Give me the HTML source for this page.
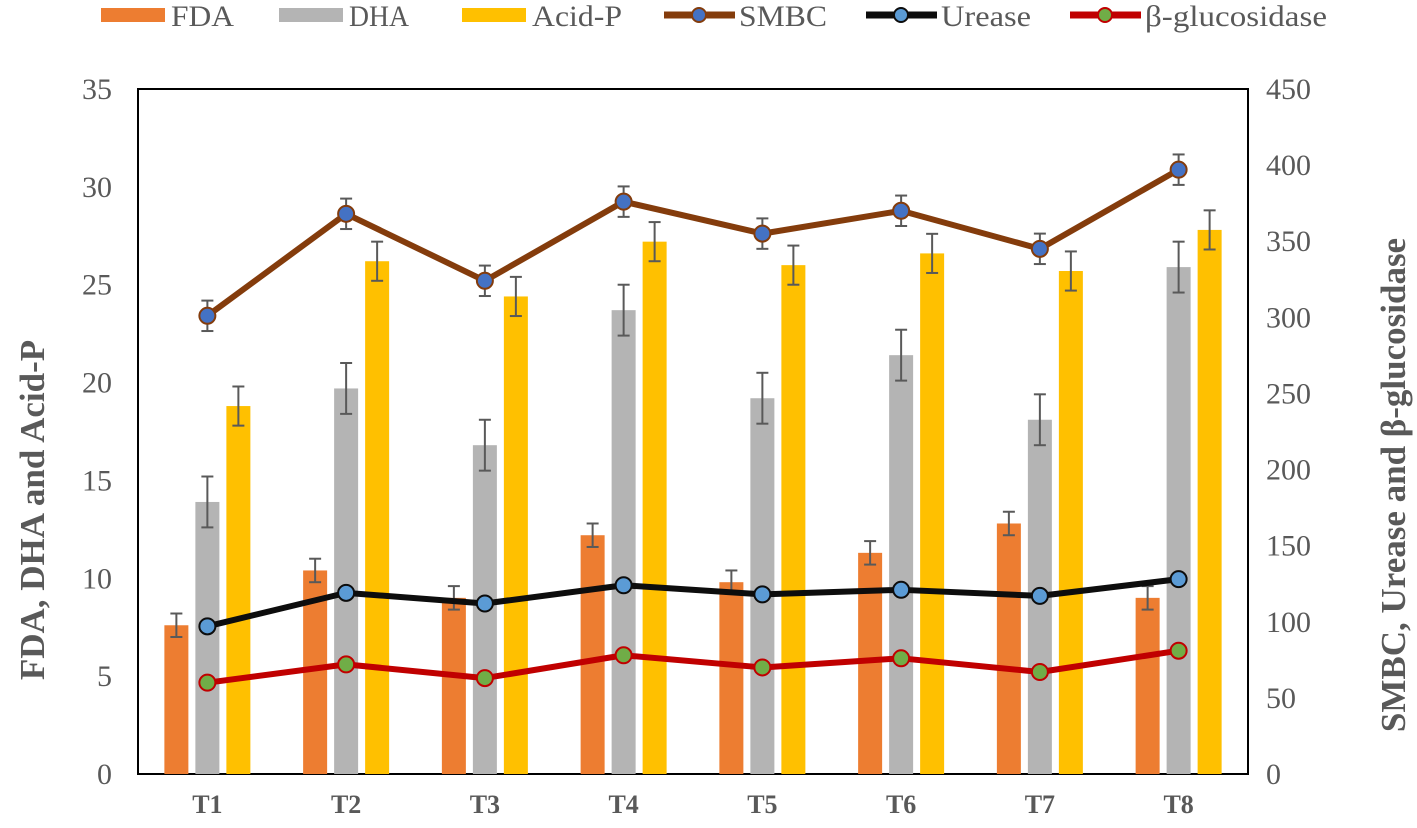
<!DOCTYPE html>
<html><head><meta charset="utf-8"><style>
body{margin:0;background:#fff;}
svg{display:block;font-family:"Liberation Serif",serif;}
</style></head><body>
<svg id="c" width="1417" height="828" xmlns="http://www.w3.org/2000/svg"></svg>
<script>
const categories=["T1","T2","T3","T4","T5","T6","T7","T8"];
const fda=[7.6,10.4,9.0,12.2,9.8,11.3,12.8,9.0];
const fdaErr=[0.6,0.6,0.6,0.6,0.6,0.6,0.6,0.6];
const dha=[13.9,19.7,16.8,23.7,19.2,21.4,18.1,25.9];
const dhaErr=[1.3,1.3,1.3,1.3,1.3,1.3,1.3,1.3];
const acidP=[18.8,26.2,24.4,27.2,26.0,26.6,25.7,27.8];
const acidErr=[1.0,1.0,1.0,1.0,1.0,1.0,1.0,1.0];
const smbc=[301,368,324,376,355,370,345,397];
const smbcErr=[10,10,10,10,10,10,10,10];
const urease=[97,119,112,124,118,121,117,128];
const gluc=[60,72,63,78,70,76,67,81];
const leftTicks=[0,5,10,15,20,25,30,35];
const rightTicks=[0,50,100,150,200,250,300,350,400,450];

const NS="http://www.w3.org/2000/svg";
const svg=document.getElementById('c');
const L=138,R=1248,T=89,B=774;
const yL=v=>B-(v/35)*(B-T);
const yR=v=>B-(v/450)*(B-T);
const step=(R-L)/categories.length;
const xC=i=>L+step*(i+0.5);
function el(tag,attrs,parent){const e=document.createElementNS(NS,tag);for(const k in attrs)e.setAttribute(k,attrs[k]);(parent||svg).appendChild(e);return e;}

el('rect',{x:L,y:T,width:R-L,height:B-T,fill:'none',stroke:'#000','stroke-width':2});

leftTicks.forEach(t=>{const tx=el('text',{x:L-26,y:yL(t)+10,'text-anchor':'end','font-size':30,fill:'#595959'});tx.textContent=t;

});
rightTicks.forEach(t=>{const tx=el('text',{x:R+18,y:yR(t)+10,'font-size':30,fill:'#595959'});tx.textContent=t;

});
categories.forEach((c,i)=>{const tx=el('text',{x:xC(i),y:813,'text-anchor':'middle','font-size':26,'font-weight':'bold',fill:'#595959'});tx.textContent=c;

});

let t1=el('text',{transform:'translate(44,510) rotate(-90)','text-anchor':'middle','font-size':35,'font-weight':'bold',fill:'#595959'});t1.textContent='FDA, DHA and Acid-P';


let t2=el('text',{transform:'translate(1405,485) rotate(-90)','text-anchor':'middle','font-size':35,'font-weight':'bold',fill:'#595959'});t2.textContent='SMBC, Urease and β-glucosidase';



function errbar(x,yTop,yBot){el('line',{x1:x,x2:x,y1:yTop,y2:yBot,stroke:'#595959','stroke-width':2});
el('line',{x1:x-6,x2:x+6,y1:yTop,y2:yTop,stroke:'#595959','stroke-width':2});
el('line',{x1:x-6,x2:x+6,y1:yBot,y2:yBot,stroke:'#595959','stroke-width':2});}

const bw=24,off=31;
[[fda,fdaErr,'#ED7D31',-off,'bar-fda'],[dha,dhaErr,'#B4B4B4',0,'bar-dha'],[acidP,acidErr,'#FFC000',off,'bar-acid-p']].forEach(([vals,errs,col,o,nm])=>{
 vals.forEach((v,i)=>{const x=xC(i)+o;const r=el('rect',{x:x-bw/2,y:yL(v),width:bw,height:B-yL(v),fill:col});
 
 
 errbar(x,yL(v+errs[i]),yL(v-errs[i]));});
});

function line(vals,col,fillc,nm,errs){
 const pts=vals.map((v,i)=>xC(i)+','+yR(v)).join(' ');
 const p=el('polyline',{points:pts,fill:'none',stroke:col,'stroke-width':6,'stroke-linejoin':'round'});
 
 
 if(errs)vals.forEach((v,i)=>errbar(xC(i),yR(v+errs[i]),yR(v-errs[i])));
 vals.forEach((v,i)=>{const c=el('circle',{cx:xC(i),cy:yR(v),r:8,fill:fillc,stroke:col,'stroke-width':2});
 
 });
}
line(smbc,'#843C0C','#4472C4','smbc',smbcErr);
line(urease,'#0D0D0D','#5B9BD5','urease');
line(gluc,'#C00000','#70AD47','glucosidase');

// legend
const lg=el('g',{});


[[101,'#ED7D31','FDA',63],[279,'#B4B4B4','DHA',60],[462,'#FFC000','Acid-P',90]].forEach(([x,c,t,w])=>{
 el('rect',{x:x,y:8,width:64,height:14,fill:c},lg);
 const tx=el('text',{x:x+70,y:26,'font-size':30,fill:'#595959','textLength':w,'lengthAdjust':'spacingAndGlyphs'},lg);tx.textContent=t;
 
 });
[[664,'#843C0C','#4472C4','SMBC',88],[866,'#0D0D0D','#5B9BD5','Urease',90],[1070,'#C00000','#70AD47','β-glucosidase',182]].forEach(([x,c,f,t,w])=>{
 el('line',{x1:x,x2:x+71,y1:15,y2:15,stroke:c,'stroke-width':7},lg);
 el('circle',{cx:x+35,cy:15,r:7,fill:f,stroke:c,'stroke-width':2},lg);
 const tx=el('text',{x:x+75,y:26,'font-size':30,fill:'#595959','textLength':w,'lengthAdjust':'spacingAndGlyphs'},lg);tx.textContent=t;
 
 });
</script>
</body></html>
